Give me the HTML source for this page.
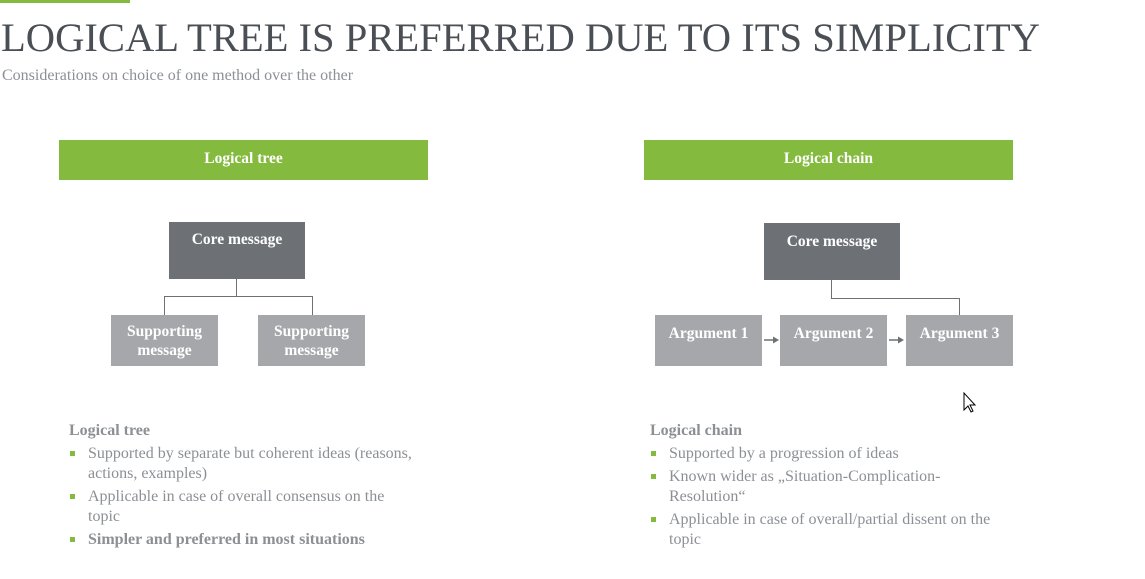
<!DOCTYPE html>
<html><head><style>
body{margin:0;width:1145px;height:579px;background:#fff;position:relative;overflow:hidden}
body,div{font-family:"Liberation Serif","Times New Roman","DejaVu Serif",serif}
.a{position:absolute}
.g{background:#84bb3f;color:#fff;font-weight:bold;font-size:15.5px;text-align:center;line-height:38px;height:40px}
.d{background:#6d7175;color:#fff;font-weight:bold;font-size:15.5px;text-align:center}
.l{background:#a5a7ab;color:#fff;font-weight:bold;font-size:15.5px;text-align:center;display:flex;align-items:center;justify-content:center;line-height:19px}
.ln{background:#6d7175}
.t{color:#8c9095;font-size:16px;line-height:20px}
.b{position:absolute;left:-18px;top:7px;width:5px;height:5px;background:#84bb3f}
</style></head><body>
<div class="a" style="left:0;top:0;width:130px;height:3px;background:#84bb3f"></div>
<div class="a" style="left:1px;top:14px;font-size:40.6px;color:#4a4f55;white-space:nowrap">LOGICAL TREE IS PREFERRED DUE TO ITS SIMPLICITY</div>
<div class="a" style="left:2px;top:67px;font-size:16px;color:#8c9095">Considerations on choice of one method over the other</div>

<div class="a g" style="left:59px;top:140px;width:369px">Logical tree</div>
<div class="a g" style="left:644px;top:140px;width:369px">Logical chain</div>

<div class="a d" style="left:169px;top:222px;width:136px;height:57px;line-height:36px">Core message</div>
<div class="a ln" style="left:236px;top:279px;width:1px;height:17px"></div>
<div class="a ln" style="left:164px;top:296px;width:149px;height:1px"></div>
<div class="a ln" style="left:164px;top:296px;width:1px;height:19px"></div>
<div class="a ln" style="left:312px;top:296px;width:1px;height:19px"></div>
<div class="a l" style="left:111px;top:315px;width:107px;height:51px">Supporting<br>message</div>
<div class="a l" style="left:258px;top:315px;width:107px;height:51px">Supporting<br>message</div>

<div class="a d" style="left:764px;top:223px;width:136px;height:57px;line-height:38px">Core message</div>
<div class="a ln" style="left:831px;top:280px;width:1px;height:18px"></div>
<div class="a ln" style="left:831px;top:298px;width:129px;height:1px"></div>
<div class="a ln" style="left:959px;top:298px;width:1px;height:17px"></div>
<div class="a l" style="left:655px;top:315px;width:107px;height:51px;align-items:flex-start;padding-top:9px;box-sizing:border-box">Argument 1</div>
<div class="a l" style="left:780px;top:315px;width:107px;height:51px;align-items:flex-start;padding-top:9px;box-sizing:border-box">Argument 2</div>
<div class="a l" style="left:906px;top:315px;width:107px;height:51px;align-items:flex-start;padding-top:9px;box-sizing:border-box">Argument 3</div>
<svg class="a" style="left:0;top:0" width="1145" height="579">
<path d="M764 340H774M889 340H899" stroke="#6d7175" stroke-width="1.5"/>
<path d="M779 340l-6-3.5v7zM904 340l-6-3.5v7z" fill="#6d7175"/>
<path d="M964 393v17l4-4 3 6 2-1-3-6h5z" fill="#fff" stroke="#000" stroke-width="1"/>
</svg>

<div class="a t" style="left:69px;top:421px;font-weight:bold">Logical tree</div>
<div class="a t" style="left:88px;top:444px;width:335px">
<div style="position:relative">
<div class="b"></div>Supported by separate but coherent ideas (reasons, actions, examples)</div>
<div style="position:relative;margin-top:3px"><div class="b"></div>Applicable in case of overall consensus on the<br>topic</div>
<div style="position:relative;margin-top:3px;font-weight:bold"><div class="b"></div>Simpler and preferred in most situations</div>
</div>

<div class="a t" style="left:650px;top:421px;font-weight:bold">Logical chain</div>
<div class="a t" style="left:669px;top:444px;width:340px">
<div style="position:relative"><div class="b"></div>Supported by a progression of ideas</div>
<div style="position:relative;margin-top:3px"><div class="b"></div>Known wider as „Situation-Complication-<br>Resolution“</div>
<div style="position:relative;margin-top:3px"><div class="b"></div>Applicable in case of overall/partial dissent on the<br>topic</div>
</div>
</body></html>
